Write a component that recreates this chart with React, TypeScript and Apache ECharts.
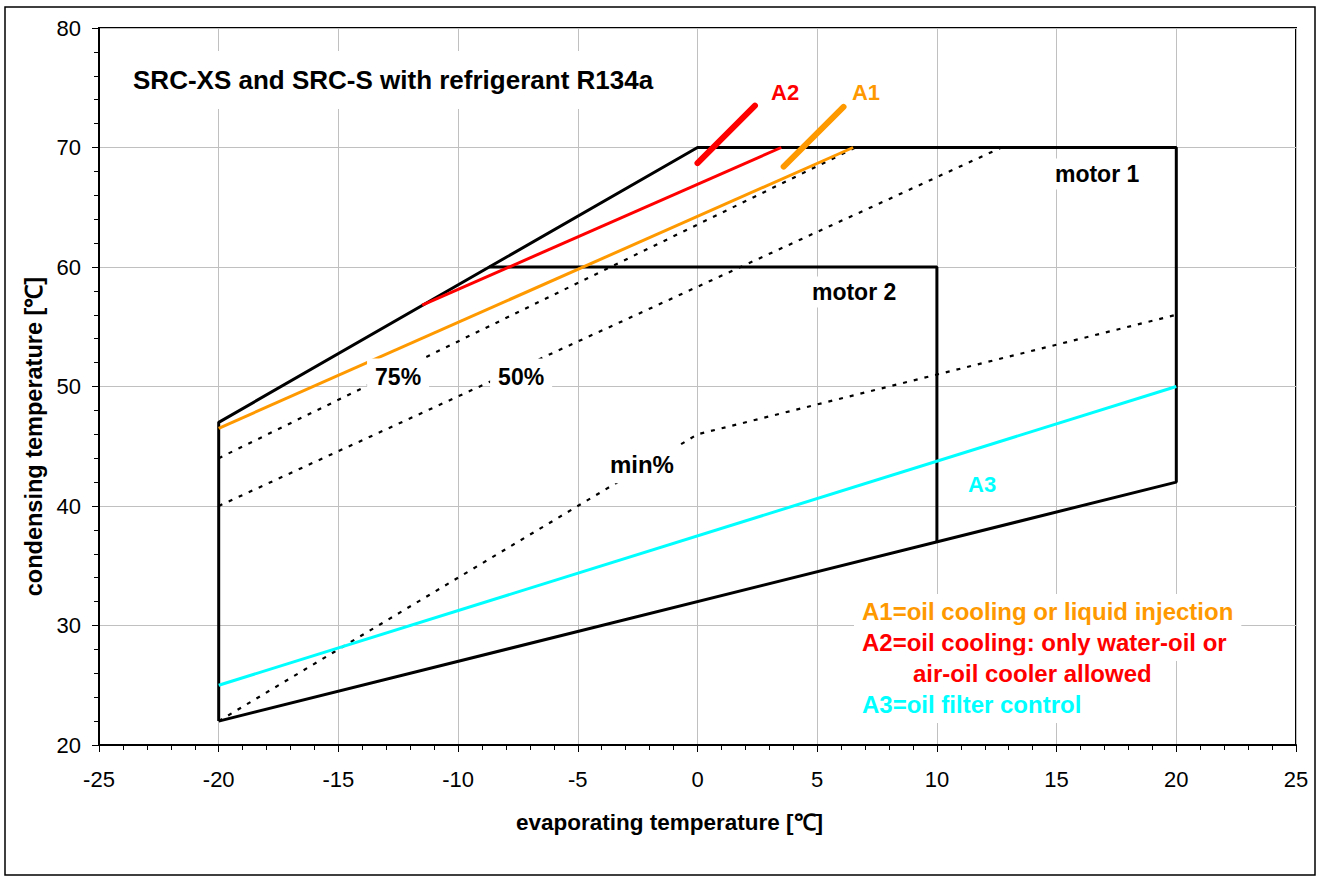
import React, { useEffect, useRef } from 'react';
import * as echarts from 'echarts';

// Axis ranges / ticks
const X_MIN = -25;
const X_MAX = 25;
const X_STEP = 5;
const Y_MIN = 20;
const Y_MAX = 80;
const Y_STEP = 10;

// Application envelope (motor 1) and motor 2 limit
const envelope: number[][] = [[-20, 22], [-20, 47], [0, 70], [20, 70], [20, 42], [-20, 22]];
const motor2: number[][] = [[-8.7, 60], [10, 60], [10, 37]];

// Limit lines
const a2Line: number[][] = [[-11.5, 56.8], [3.5, 70]];
const a1Line: number[][] = [[-20, 46.5], [6.5, 70]];
const a3Line: number[][] = [[-20, 25], [20, 50]];

// Capacity control lines (dotted)
const pct75: number[][] = [[-20, 44], [6.6, 70]];
const pct50: number[][] = [[-20, 40], [12.7, 70]];
const pctMin: number[][] = [[-20, 22], [0, 46], [20, 56]];

// Label leader lines
const a2Leader: number[][] = [[0, 68.7], [2.4, 73.5]];
const a1Leader: number[][] = [[3.6, 68.4], [6.1, 73.4]];

// Annotation texts and their anchors (data coordinates)
const labelTexts: string[] = [
  'SRC-XS and SRC-S with refrigerant R134a',
  'A2',
  'A1',
  'motor 1',
  'motor 2',
  '75%',
  '50%',
  'min%',
  'A3',
  'A1=oil cooling or liquid injection',
  'A2=oil cooling: only water-oil or',
  'air-oil cooler allowed',
  'A3=oil filter control',
];
const labelAnchors: number[][] = [
  [-23.6, 75.65],
  [3.05, 74.64],
  [6.43, 74.64],
  [14.91, 67.78],
  [4.76, 57.9],
  [-13.49, 50.8],
  [-8.35, 50.8],
  [-3.68, 43.5],
  [11.28, 41.76],
  [6.85, 31.13],
  [6.85, 28.54],
  [8.98, 26.0],
  [6.85, 23.35],
];

const FONT = '"Liberation Sans", Arial, Helvetica, sans-serif';
const RED = '#ff0000';
const ORANGE = '#ff9900';
const CYAN = '#00ffff';

const labelColors = ['#000', RED, ORANGE, '#000', '#000', '#000', '#000', '#000', CYAN, ORANGE, RED, RED, CYAN];
const labelSizes = [26, 22, 22, 23, 23, 23, 23, 24, 22, 24, 24, 24, 24];
const labelPads = [
  [16, 8, 16, 8],
  [2, 2, 2, 2],
  [2, 2, 2, 2],
  [4, 8, 4, 8],
  [4, 8, 4, 8],
  [7, 8, 7, 8],
  [7, 8, 7, 8],
  [7, 8, 7, 8],
  [7, 8, 7, 8],
  [6, 8, 6, 8],
  [6, 8, 6, 8],
  [6, 8, 6, 8],
  [6, 8, 6, 8],
];

export default function App() {
  const ref = useRef<HTMLDivElement>(null);

  useEffect(() => {
    document.body.style.margin = '0';
    if (!ref.current) return;
    const chart = echarts.init(ref.current, undefined, { renderer: 'svg' });

    const lineSeries = (data: number[][], color: string, width: number, z: number, extra: any = {}) => ({
      type: 'line',
      data,
      symbol: 'none',
      showSymbol: false,
      silent: true,
      z,
      lineStyle: { color, width, opacity: 1, ...extra },
    });

    const labelData = labelTexts.map((t, i) => ({
      name: t,
      value: labelAnchors[i],
      label: {
        show: true,
        formatter: '{b}',
        position: 'right',
        distance: 0,
        offset: [-labelPads[i][3], 0],
        color: labelColors[i],
        opacity: 1,
        fontSize: labelSizes[i],
        fontWeight: 'bold',
        fontFamily: FONT,
        textBorderWidth: 0,
        backgroundColor: i === 1 || i === 2 ? 'transparent' : '#ffffff',
        padding: labelPads[i],
      },
    }));

    const dotted = { type: [4, 7], cap: 'butt' };

    const option: any = {
      animation: false,
      backgroundColor: '#ffffff',
      textStyle: { fontFamily: FONT },
      graphic: [
        {
          type: 'rect',
          shape: { x: 5, y: 7, width: 1310, height: 868 },
          style: { fill: 'none', stroke: '#000', lineWidth: 1.5 },
          silent: true,
          z: -10,
        },
      ],
      grid: {
        left: 99,
        top: 28,
        width: 1197,
        height: 717,
        show: true,
        borderColor: '#000',
        borderWidth: 2,
        backgroundColor: 'transparent',
        containLabel: false,
        outerBoundsMode: 'none',
      },
      xAxis: {
        type: 'value',
        min: X_MIN,
        max: X_MAX,
        interval: X_STEP,
        axisLine: { show: true, onZero: false, lineStyle: { color: '#000', width: 2 } },
        axisTick: { show: true, length: 7, lineStyle: { color: '#000', width: 1 } },
        minorTick: { show: true, splitNumber: 5, length: 5, lineStyle: { color: '#000', width: 1 } },
        splitLine: { show: true, lineStyle: { color: '#c0c0c0', width: 1 } },
        axisLabel: { color: '#000', fontSize: 22, margin: 23, fontFamily: FONT },
        name: 'evaporating temperature [℃]',
        nameLocation: 'middle',
        nameGap: 66,
        nameTextStyle: { color: '#000', fontSize: 22.5, fontWeight: 'bold', fontFamily: FONT, padding: [0, 56, 0, 0] },
      },
      yAxis: {
        type: 'value',
        min: Y_MIN,
        max: Y_MAX,
        interval: Y_STEP,
        axisLine: { show: true, onZero: false, lineStyle: { color: '#000', width: 2 } },
        axisTick: { show: true, length: 7, lineStyle: { color: '#000', width: 1 } },
        minorTick: { show: true, splitNumber: 5, length: 5, lineStyle: { color: '#000', width: 1 } },
        splitLine: { show: true, lineStyle: { color: '#c0c0c0', width: 1 } },
        axisLabel: { color: '#000', fontSize: 22, margin: 18, fontFamily: FONT },
        name: 'condensing temperature [℃]',
        nameLocation: 'middle',
        nameGap: 50,
        nameTextStyle: { color: '#000', fontSize: 23.5, fontWeight: 'bold', fontFamily: FONT, padding: [0, 100, 0, 0] },
      },
      series: [
        lineSeries(envelope, '#000', 3, 2),
        lineSeries(motor2, '#000', 3, 2),
        lineSeries(pct75, '#000', 2.2, 3, dotted),
        lineSeries(pct50, '#000', 2.2, 3, dotted),
        lineSeries(pctMin, '#000', 2.2, 3, dotted),
        lineSeries(a3Line, CYAN, 3, 4),
        lineSeries(a1Line, ORANGE, 3, 4),
        lineSeries(a2Line, RED, 3, 4),
        lineSeries(a2Leader, RED, 6, 5, { cap: 'round' }),
        lineSeries(a1Leader, ORANGE, 6, 5, { cap: 'round' }),
        {
          type: 'scatter',
          data: labelData,
          symbol: 'circle',
          symbolSize: 1,
          itemStyle: { color: 'rgba(0,0,0,0)', opacity: 1 },
          silent: true,
          z: 10,
        },
      ],
    };

    chart.setOption(option);
    return () => chart.dispose();
  }, []);

  return <div ref={ref} style={{ width: 1321, height: 878 }} />;
}
